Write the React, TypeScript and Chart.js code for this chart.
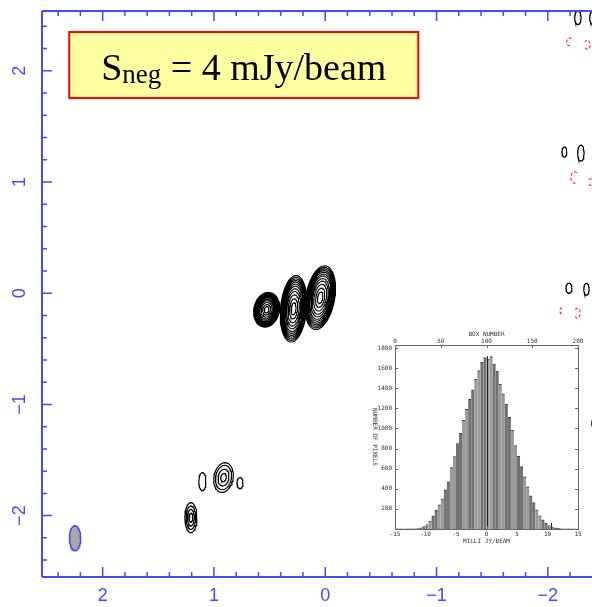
import React, { useEffect, useRef } from "react";
import { Chart, registerables } from "chart.js";
Chart.register(...registerables);

// ---------- main map (offsets in arcsec) ----------
const mapXMin = -2.397;
const mapXMax = 2.545;
const mapYMin = -2.552;
const mapYMax = 2.538;
const xTickValues = [2, 1, 0, -1, -2];
const yTickValues = [2, 1, 0, -1, -2];
const xTickLabels = ["2", "1", "0", "\u22121", "\u22122"];
const yTickLabels = ["2", "1", "0", "\u22121", "\u22122"];

// positive contour groups
const srcX = [0.527, 0.284, 0.045, 0.914, 1.104, 0.766, 1.207, -2.27, -2.405, -2.149, -2.297, -2.19, -2.347, -2.425];
const srcY = [-0.149, -0.14, -0.04, -1.658, -1.694, -1.707, -2.018, 2.477, 2.477, 1.27, 1.26, 0.045, 0.036, -1.17];
const srcRx = [0.115, 0.118, 0.13, 0.086, 0.032, 0.027, 0.054, 0.029, 0.029, 0.022, 0.029, 0.027, 0.024, 0.03];
const srcRy = [0.158, 0.3, 0.29, 0.135, 0.081, 0.05, 0.135, 0.06, 0.06, 0.045, 0.072, 0.045, 0.054, 0.05];
const srcTilt = [12, 5, 10, 10, 0, 0, 0, 0, 0, 0, 0, 0, 0, 0];
const srcKind = ["dense", "dense", "dense", "ring", "single", "single", "multi", "single", "single", "single", "single", "single", "single", "single"];
const denseLevels = [1, 0.95, 0.9, 0.85, 0.8, 0.74, 0.68, 0.6, 0.52, 0.42, 0.3, 0.18];
const ringLevels = [1, 0.82, 0.56, 0.28];
const multiLevels = [1, 0.78, 0.55, 0.3];
const singleLevels = [1];

// negative (dashed red) contours, partial arcs
const negX = [-2.2, -2.356, -2.243, -2.385, -2.12, -2.266];
const negY = [2.26, 2.234, 1.04, 1.0, -0.158, -0.18];
const negRx = [0.03, 0.025, 0.036, 0.02, 0.012, 0.025];
const negRy = [0.035, 0.04, 0.05, 0.03, 0.025, 0.045];
const negArcFrom = [60, -140, 60, -140, 60, -140];
const negArcTo = [300, 140, 300, 140, 300, 140];

// restoring beam
const beamX = 2.248;
const beamY = -2.203;
const beamRx = 0.05;
const beamRy = 0.113;

// label box (data coords)
const boxLeft = 2.3;
const boxRight = -0.836;
const boxTop = 2.349;
const boxBottom = 1.755;

// ---------- histogram inset ----------
const histCenters = [
  -14.75, -14.25, -13.75, -13.25, -12.75, -12.25, -11.75, -11.25, -10.75, -10.25,
  -9.75, -9.25, -8.75, -8.25, -7.75, -7.25, -6.75, -6.25, -5.75, -5.25,
  -4.75, -4.25, -3.75, -3.25, -2.75, -2.25, -1.75, -1.25, -0.75, -0.25,
  0.25, 0.75, 1.25, 1.75, 2.25, 2.75, 3.25, 3.75, 4.25, 4.75,
  5.25, 5.75, 6.25, 6.75, 7.25, 7.75, 8.25, 8.75, 9.25, 9.75,
  10.25, 10.75, 11.25, 11.75, 12.25, 12.75, 13.25, 13.75, 14.25, 14.75,
];
const histCounts = [
  0, 0, 0, 0, 0, 0, 2, 5, 12, 25,
  45, 80, 130, 185, 240, 300, 390, 470, 610, 720,
  850, 955, 1080, 1190, 1290, 1385, 1490, 1575, 1660, 1705,
  1690, 1715, 1640, 1570, 1440, 1345, 1240, 1110, 985, 830,
  725, 620, 520, 420, 330, 262, 190, 130, 90, 60,
  35, 22, 12, 6, 2, 0, 0, 0, 0, 0,
];
const histXTicks = [-15, -10, -5, 0, 5, 10, 15];
const histYTicks = [200, 400, 600, 800, 1000, 1200, 1400, 1600, 1800];
const boxTicks = [0, 50, 100, 150, 200];
const histYMax = 1830;
const zeroLineTop = 1720;
const markerX = 10.5;
const markerTop = 60;

const AXIS_BLUE = "#4848ff";

function ellipsePts(cx: number, cy: number, rx: number, ry: number, tilt: number, a0 = 0, a1 = 360) {
  const pts: { x: number; y: number }[] = [];
  const th = (tilt * Math.PI) / 180;
  for (let a = a0; a <= a1 + 0.001; a += 8) {
    const t = (a * Math.PI) / 180;
    const u = rx * Math.cos(t);
    const v = ry * Math.sin(t);
    const u2 = u * Math.cos(th) + v * Math.sin(th);
    const v2 = -u * Math.sin(th) + v * Math.cos(th);
    pts.push({ x: cx - u2, y: cy + v2 });
  }
  return pts;
}

function levelsFor(kind: string) {
  if (kind === "dense") return denseLevels;
  if (kind === "ring") return ringLevels;
  if (kind === "multi") return multiLevels;
  return singleLevels;
}

const mapAxesPlugin = {
  id: "mapAxes",
  afterDatasetsDraw(chart: any) {
    const { ctx, chartArea: a, scales } = chart;
    const xs = scales.x;
    const ys = scales.y;
    ctx.save();
    // label box
    const bl = xs.getPixelForValue(boxLeft);
    const br = xs.getPixelForValue(boxRight);
    const bt = ys.getPixelForValue(boxTop);
    const bb = ys.getPixelForValue(boxBottom);
    ctx.fillStyle = "#ffffa0";
    ctx.fillRect(bl, bt, br - bl, bb - bt);
    ctx.strokeStyle = "#ff0000";
    ctx.lineWidth = 2;
    ctx.strokeRect(bl, bt, br - bl, bb - bt);
    const big = '38px "Liberation Serif", "Times New Roman", serif';
    const small = '27px "Liberation Serif", "Times New Roman", serif';
    ctx.fillStyle = "#000";
    ctx.textBaseline = "alphabetic";
    ctx.textAlign = "left";
    ctx.font = big;
    const w1 = ctx.measureText("S").width;
    const w3 = ctx.measureText(" = 4 mJy/beam").width;
    ctx.font = small;
    const w2 = ctx.measureText("neg").width;
    const total = w1 + w2 + w3;
    let tx = (bl + br) / 2 - total / 2;
    const base = bt + 48;
    ctx.font = big;
    ctx.fillText("S", tx, base);
    tx += w1;
    ctx.font = small;
    ctx.fillText("neg", tx, base + 3);
    tx += w2;
    ctx.font = big;
    ctx.fillText(" = 4 mJy/beam", tx, base);

    // axes
    ctx.strokeStyle = AXIS_BLUE;
    ctx.lineWidth = 2;
    ctx.beginPath();
    ctx.moveTo(a.left, a.top);
    ctx.lineTo(a.right + 4, a.top);
    ctx.moveTo(a.left, a.top);
    ctx.lineTo(a.left, a.bottom);
    ctx.moveTo(a.left, a.bottom);
    ctx.lineTo(a.right + 4, a.bottom);
    ctx.stroke();
    ctx.lineWidth = 1.5;
    ctx.beginPath();
    for (let i = -13; i <= 13; i++) {
      const v = i / 5;
      const len = i % 5 === 0 ? 10 : 5;
      if (v <= mapXMax && v >= mapXMin) {
        const px = xs.getPixelForValue(v);
        ctx.moveTo(px, a.top);
        ctx.lineTo(px, a.top + len);
        ctx.moveTo(px, a.bottom);
        ctx.lineTo(px, a.bottom - len);
      }
      if (v <= mapYMax && v >= mapYMin) {
        const py = ys.getPixelForValue(v);
        ctx.moveTo(a.left, py);
        ctx.lineTo(a.left + len, py);
      }
    }
    ctx.stroke();
    ctx.fillStyle = AXIS_BLUE;
    ctx.font = '18px "Liberation Sans", Arial, sans-serif';
    ctx.textAlign = "center";
    ctx.textBaseline = "middle";
    xTickValues.forEach((v, i) => {
      ctx.fillText(xTickLabels[i], xs.getPixelForValue(v), a.bottom + 19);
    });
    yTickValues.forEach((v, i) => {
      ctx.save();
      ctx.translate(20, ys.getPixelForValue(v));
      ctx.rotate(-Math.PI / 2);
      ctx.fillText(yTickLabels[i], 0, 0);
      ctx.restore();
    });
    ctx.restore();
  },
};

const histFramePlugin = {
  id: "histFrame",
  afterDatasetsDraw(chart: any) {
    const { ctx, chartArea: a, scales } = chart;
    const xs = scales.x;
    const ys = scales.y;
    ctx.save();
    ctx.strokeStyle = "#1a1a1a";
    ctx.lineWidth = 1;
    ctx.beginPath();
    const zx = Math.round(xs.getPixelForValue(0)) + 0.5;
    ctx.moveTo(zx, ys.getPixelForValue(0));
    ctx.lineTo(zx, ys.getPixelForValue(zeroLineTop));
    const mx = Math.round(xs.getPixelForValue(markerX)) + 0.5;
    ctx.moveTo(mx, ys.getPixelForValue(0));
    ctx.lineTo(mx, ys.getPixelForValue(markerTop));
    ctx.stroke();

    ctx.strokeStyle = "#666";
    ctx.strokeRect(Math.round(a.left) + 0.5, Math.round(a.top) + 0.5, Math.round(a.right - a.left), Math.round(a.bottom - a.top));
    ctx.beginPath();
    histYTicks.forEach((v) => {
      const py = Math.round(ys.getPixelForValue(v)) + 0.5;
      ctx.moveTo(a.left, py);
      ctx.lineTo(a.left + 3, py);
      ctx.moveTo(a.right, py);
      ctx.lineTo(a.right - 3, py);
    });
    histXTicks.forEach((v) => {
      const px = Math.round(xs.getPixelForValue(v)) + 0.5;
      ctx.moveTo(px, a.bottom);
      ctx.lineTo(px, a.bottom - 3);
    });
    boxTicks.forEach((b) => {
      const px = Math.round(xs.getPixelForValue(-15 + (b * 30) / 200)) + 0.5;
      ctx.moveTo(px, a.top);
      ctx.lineTo(px, a.top + 3);
    });
    ctx.stroke();

    ctx.fillStyle = "#333";
    ctx.font = '6px "DejaVu Sans Mono", monospace';
    ctx.textAlign = "center";
    ctx.textBaseline = "alphabetic";
    boxTicks.forEach((b) => {
      ctx.fillText(String(b), xs.getPixelForValue(-15 + (b * 30) / 200), a.top - 2);
    });
    ctx.fillText("BOX NUMBER", (a.left + a.right) / 2, a.top - 9);
    ctx.textBaseline = "top";
    histXTicks.forEach((v) => {
      ctx.fillText(String(v), xs.getPixelForValue(v), a.bottom + 2);
    });
    ctx.fillText("MILLI JY/BEAM", (a.left + a.right) / 2, a.bottom + 9);
    ctx.textAlign = "right";
    ctx.textBaseline = "middle";
    histYTicks.forEach((v) => {
      ctx.fillText(String(v), a.left - 3, ys.getPixelForValue(v));
    });
    ctx.save();
    ctx.translate(a.left - 20, (a.top + a.bottom) / 2);
    ctx.rotate(Math.PI / 2);
    ctx.textAlign = "center";
    ctx.fillText("NUMBER OF PIXELS", 0, 0);
    ctx.restore();
    ctx.restore();
  },
};

export default function App() {
  const mapRef = useRef<HTMLCanvasElement>(null);
  const histRef = useRef<HTMLCanvasElement>(null);

  useEffect(() => {
    const datasets: any[] = [];
    srcX.forEach((cx, i) => {
      const pts: any[] = [];
      levelsFor(srcKind[i]).forEach((f) => {
        pts.push(...ellipsePts(cx, srcY[i], srcRx[i] * f, srcRy[i] * f, srcTilt[i]));
        pts.push({ x: NaN, y: NaN });
      });
      datasets.push({
        data: pts,
        showLine: true,
        borderColor: "#000",
        borderWidth: srcKind[i] === "dense" ? 1.1 : 1.2,
        pointRadius: 0,
        fill: false,
      });
    });
    negX.forEach((cx, i) => {
      datasets.push({
        data: ellipsePts(cx, negY[i], negRx[i], negRy[i], 0, negArcFrom[i], negArcTo[i]),
        showLine: true,
        borderColor: "#ff2020",
        borderWidth: 1.1,
        borderDash: [3, 2],
        pointRadius: 0,
        fill: false,
      });
    });
    datasets.push({
      data: ellipsePts(beamX, beamY, beamRx, beamRy, 0),
      showLine: true,
      borderColor: AXIS_BLUE,
      borderWidth: 1.5,
      backgroundColor: "#a8a8a8",
      pointRadius: 0,
      fill: "shape",
    });

    const map = new Chart(mapRef.current as HTMLCanvasElement, {
      type: "scatter",
      data: { datasets },
      options: {
        animation: false,
        responsive: false,
        devicePixelRatio: 1,
        layout: { padding: { left: 42, top: 11, right: 0, bottom: 30 } },
        plugins: { legend: { display: false }, tooltip: { enabled: false } },
        scales: {
          x: { type: "linear", reverse: true, min: mapXMin, max: mapXMax, display: false },
          y: { type: "linear", min: mapYMin, max: mapYMax, display: false },
        },
      } as any,
      plugins: [mapAxesPlugin],
    });

    const hist = new Chart(histRef.current as HTMLCanvasElement, {
      type: "bar",
      data: {
        datasets: [
          {
            data: histCenters.map((c, i) => ({ x: c, y: histCounts[i] })),
            backgroundColor: (c: any) => (Math.floor(c.dataIndex / 2) % 2 === 0 ? "#727272" : "#9a9a9a"),
            borderColor: "#3a3a3a",
            borderWidth: { top: 1, left: 0, right: 0, bottom: 0 },
            barPercentage: 1,
            categoryPercentage: 1,
          },
        ],
      },
      options: {
        animation: false,
        responsive: false,
        devicePixelRatio: 1,
        layout: { padding: { left: 30, top: 15, right: 9, bottom: 19 } },
        plugins: { legend: { display: false }, tooltip: { enabled: false } },
        scales: {
          x: { type: "linear", min: -15, max: 15, offset: false, display: false },
          y: { min: 0, max: histYMax, display: false },
        },
      } as any,
      plugins: [histFramePlugin],
    });

    return () => {
      map.destroy();
      hist.destroy();
    };
  }, []);

  return (
    <div style={{ position: "fixed", left: 0, top: 0, width: 592, height: 607, background: "#fff", overflow: "hidden" }}>
      <canvas ref={mapRef} width={592} height={607} style={{ position: "absolute", left: 0, top: 0 }} />
      <canvas
        ref={histRef}
        width={222}
        height={218}
        style={{ position: "absolute", left: 365, top: 330, background: "#fff" }}
      />
    </div>
  );
}
